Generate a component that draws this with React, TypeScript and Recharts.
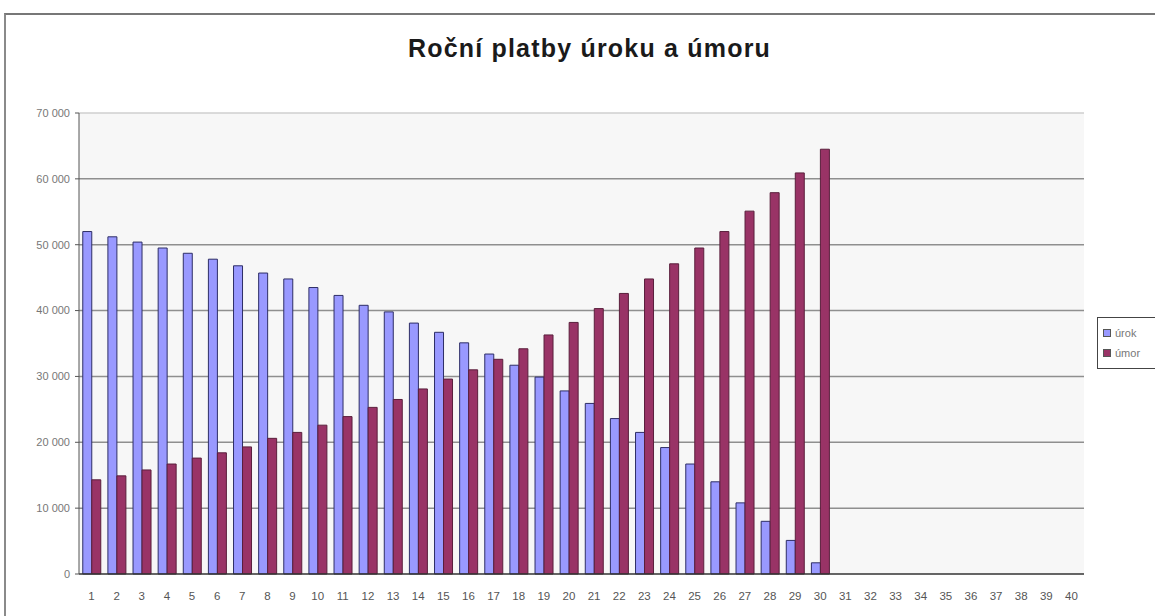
import React from 'react';
import {
  BarChart,
  Bar,
  XAxis,
  YAxis,
  CartesianGrid,
  Legend,
  ReferenceLine,
} from 'recharts';

// roky splácení 1..40
const roky = [
  '1', '2', '3', '4', '5', '6', '7', '8', '9', '10',
  '11', '12', '13', '14', '15', '16', '17', '18', '19', '20',
  '21', '22', '23', '24', '25', '26', '27', '28', '29', '30',
  '31', '32', '33', '34', '35', '36', '37', '38', '39', '40',
];

// roční úrok (jen prvních 30 let)
const urok = [
  52000, 51200, 50400, 49500, 48700, 47800, 46800, 45700, 44800, 43500,
  42300, 40800, 39800, 38100, 36700, 35100, 33400, 31700, 29900, 27800,
  25900, 23600, 21500, 19200, 16700, 14000, 10800, 8000, 5100, 1700,
];

// roční úmor
const umor = [
  14300, 14900, 15800, 16700, 17600, 18400, 19300, 20600, 21500, 22600,
  23900, 25300, 26500, 28100, 29600, 31000, 32600, 34200, 36300, 38200,
  40300, 42600, 44800, 47100, 49500, 52000, 55100, 57900, 60900, 64500,
];

const yTicks = [0, 10000, 20000, 30000, 40000, 50000, 60000, 70000];
const gridValues = [10000, 20000, 30000, 40000, 50000, 60000];

const data = roky.map((rok, i) => ({
  rok,
  urok: urok[i] ?? null,
  umor: umor[i] ?? null,
}));

const FONT = '"Liberation Sans", Arial, sans-serif';

const fmt = (v: number) => String(v).replace(/\B(?=(\d{3})+(?!\d))/g, ' ');

function LegendBox() {
  const items = [
    { label: 'úrok', color: '#9999ff' },
    { label: 'úmor', color: '#993366' },
  ];
  return (
    <div
      style={{
        border: '1px solid #444',
        background: '#fff',
        padding: '5px 6px 5px 5px',
        fontFamily: FONT,
        fontSize: 11,
        color: '#777',
        width: 64,
      }}
    >
      {items.map((it) => (
        <div
          key={it.label}
          style={{ display: 'flex', alignItems: 'center', height: 20 }}
        >
          <span
            style={{
              display: 'inline-block',
              width: 6,
              height: 6,
              background: it.color,
              border: '1px solid #555',
              marginRight: 4,
            }}
          />
          {it.label}
        </div>
      ))}
    </div>
  );
}

export default function App() {
  return (
    <div
      style={{
        position: 'absolute',
        left: 0,
        top: 0,
        width: 1155,
        height: 616,
        overflow: 'hidden',
        background: '#fff',
      }}
    >
      <div
        style={{
          position: 'absolute',
          left: 4,
          top: 13,
          width: 1170,
          height: 640,
          borderTop: '2px solid #777',
          borderLeft: '2px solid #8a8a8a',
        }}
      />
      <div
        style={{
          position: 'absolute',
          left: 12,
          width: 1155,
          top: 34,
          textAlign: 'center',
          fontFamily: FONT,
          fontSize: 25,
          fontWeight: 'bold',
          letterSpacing: 1.2,
          color: '#1a1a1a',
        }}
      >
        Roční platby úroku a úmoru
      </div>
      <div style={{ position: 'absolute', left: 0, top: 0 }}>
        <BarChart
          width={1155}
          height={616}
          data={data}
          margin={{ top: 113, right: 71, bottom: 12, left: 0 }}
          barCategoryGap="15%"
          barGap={0}
        >
          <CartesianGrid
            yAxisId="l"
            vertical={false}
            horizontalValues={gridValues}
            stroke="#8f8f8f"
            strokeWidth={1.5}
            fill="#f7f7f7"
          />
          <XAxis
            dataKey="rok"
            height={30}
            interval={0}
            tickLine={false}
            axisLine={{ stroke: '#333', strokeWidth: 1.5 }}
            tick={{ fill: '#555', fontSize: 11.5, fontFamily: FONT }}
            tickMargin={12}
          />
          <YAxis
            yAxisId="l"
            width={79}
            domain={[0, 70000]}
            ticks={yTicks}
            tickFormatter={fmt}
            axisLine={{ stroke: '#555' }}
            tickLine={{ stroke: '#555' }}
            tickSize={4}
            tickMargin={5}
            tick={{ fill: '#777', fontSize: 11, fontFamily: FONT }}
          />
          <YAxis
            yAxisId="r"
            orientation="right"
            width={0}
            domain={[0, 70000]}
            tick={false}
            tickLine={false}
            axisLine={{ stroke: '#cfcfcf' }}
          />
          <ReferenceLine yAxisId="l" y={70000} stroke="#cfcfcf" strokeWidth={1.5} />
          <Legend
            layout="horizontal"
            verticalAlign="middle"
            content={<LegendBox />}
            wrapperStyle={{
              position: 'absolute',
              left: 1097,
              top: 317,
              width: 'auto',
            }}
          />
          <Bar
            yAxisId="l"
            dataKey="urok"
            name="úrok"
            fill="#9999ff"
            stroke="#2e2e66"
            strokeWidth={1}
            isAnimationActive={false}
          />
          <Bar
            yAxisId="l"
            dataKey="umor"
            name="úmor"
            fill="#993366"
            stroke="#5a1f3c"
            strokeWidth={1}
            isAnimationActive={false}
          />
        </BarChart>
      </div>
    </div>
  );
}
